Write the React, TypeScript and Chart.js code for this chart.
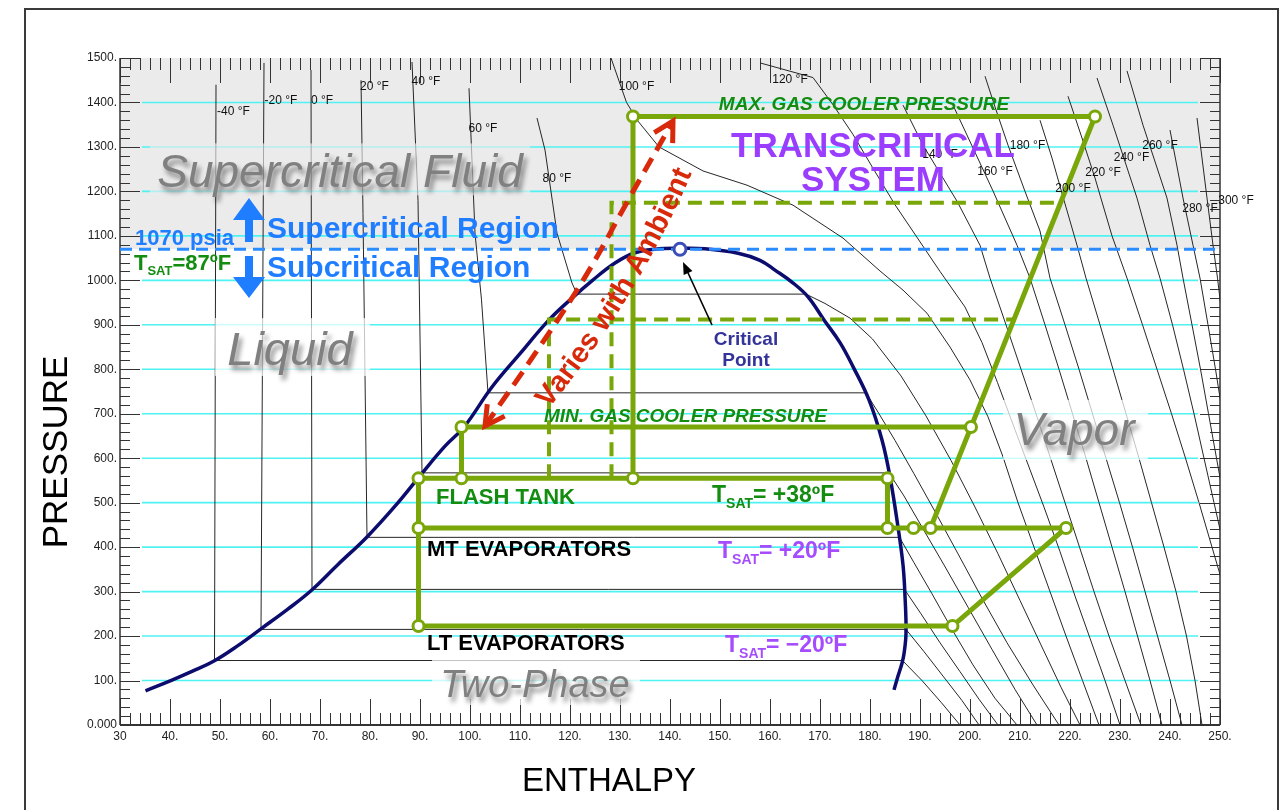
import React, { useEffect, useRef } from "react";
import { Chart, registerables } from "chart.js";

Chart.register(...registerables);

const FONT = '"Liberation Sans", Arial, Helvetica, sans-serif';

// ---------- axes ----------
const ENTHALPY_RANGE = [30, 250];
const PRESSURE_RANGE = [0, 1500];
const ENTHALPY_STEP = 10;
const PRESSURE_STEP = 100;
const CRITICAL_PRESSURE = 1070;
const CRITICAL_POINT = [[142, 1070]];

// ---------- saturation dome [h, p] ----------
const saturationDome = [
  [35.1, 77], [40.4, 101], [44.5, 121], [48.8, 144], [53.5, 178], [58.4, 218], [63.5, 260],
  [68.3, 303], [73.5, 360], [79.4, 423], [85, 492], [90.4, 566], [95, 627], [98.8, 670],
  [104.4, 760], [110, 835], [115.8, 911], [120.4, 960], [124.5, 1000], [129, 1039], [133, 1062],
  [137, 1070], [142, 1072], [147, 1071], [153.6, 1061], [158, 1045], [161, 1023], [164.5, 995],
  [167.6, 963], [170.8, 911], [174, 860], [176.6, 806], [179.8, 731], [182.4, 641], [184, 558],
  [185.6, 445], [186.6, 360], [187, 290], [187.2, 207], [186.8, 160], [186.4, 139], [185.6, 110],
  [184.8, 79],
];

// ---------- isotherms [h, p] ----------
const isoM40 = [[49.2, 1440], [48.9, 145], [186.5, 145], [190.4, 100], [194.3, 50], [198, 0]];
const isoM20 = [[58.8, 1489], [58.2, 215], [187.2, 215], [190.8, 165], [194.6, 110], [198.4, 55], [201.8, 0]];
const iso0 = [[68.2, 1473], [68.4, 305], [186.9, 305], [190.2, 250], [194, 185], [198, 120], [201.8, 58], [205.6, 0]];
const iso20 = [[78.2, 1450], [78.6, 1150], [79.4, 422], [185.9, 422], [188.8, 365], [192.4, 295], [196.4, 215], [200.6, 135], [205, 60], [209.4, 0]];
const iso40 = [[88.4, 1491], [89.6, 1180], [90.4, 567], [183.8, 567], [186.8, 515], [190.4, 445], [194.8, 360], [199.6, 265], [204.4, 170], [209, 80], [213.4, 0]];
const iso60 = [[99.8, 1432], [101, 1106], [102.3, 956], [103.6, 747], [179.2, 747], [181.8, 700], [185, 640], [188.8, 565], [193, 480], [197.6, 385], [202.4, 285], [207.4, 185], [212.6, 90], [217.8, 0]];
const iso80 = [[113.4, 1365], [115, 1293], [117.4, 1106], [120.4, 994], [121.4, 969], [167.2, 969], [171, 948], [176, 915], [180.5, 868], [186.2, 785], [191.2, 695], [196.2, 595], [201, 490], [205.6, 385], [210, 280], [214.2, 180], [218.2, 85], [222, 0]];
const iso100 = [[128.2, 1500], [131.3, 1400], [133.6, 1358], [137.8, 1300], [146.6, 1246], [155.4, 1214], [164.6, 1169], [174.6, 1095], [182, 1021], [186.6, 978], [191.4, 926], [196, 850], [200, 776], [203.6, 693], [206.6, 603], [209.6, 500], [212.8, 400], [216, 300], [219.2, 200], [222.5, 100], [225.8, 0]];
const iso120 = [[158, 1489], [168.6, 1456], [172.6, 1395], [176.6, 1328], [180.6, 1252], [185, 1170], [189.5, 1095], [194, 1020], [199, 940], [202.4, 860], [205.5, 770], [208.8, 670], [211.8, 580], [214.8, 490], [218, 390], [221, 290], [224, 195], [227, 100], [230, 0]];
const iso140 = [[186.6, 1394], [190.6, 1304], [197.4, 1178], [202, 1079], [204, 1005], [207.2, 900], [210.2, 800], [213.2, 700], [216.1, 600], [219, 500], [221.9, 400], [224.8, 300], [227.8, 200], [231, 100], [234.2, 0]];
const iso160 = [[196.6, 1394], [200.5, 1300], [204.6, 1201], [209.4, 1079], [212, 1005], [215, 900], [217.8, 800], [220.5, 700], [223.2, 600], [225.8, 500], [228.4, 400], [231, 300], [233.5, 200], [236, 100], [238.4, 0]];
const iso180 = [[203, 1459], [205, 1390], [207.6, 1304], [211, 1200], [214, 1111], [216, 1005], [219, 900], [221.8, 800], [224.5, 700], [227.2, 600], [229.9, 500], [232.5, 400], [235, 300], [237.5, 200], [240, 100], [242.4, 0]];
const iso200 = [[214, 1360], [216.4, 1275], [218.8, 1180], [221.4, 1079], [223.2, 1005], [226, 900], [228.6, 800], [231.2, 700], [233.8, 600], [236.3, 500], [238.8, 400], [241.2, 300], [243.3, 200], [245, 100], [246.4, 0]];
const iso220 = [[219.6, 1414], [222.4, 1320], [225, 1230], [228.4, 1100], [231.4, 1005], [234.5, 900], [237.4, 800], [240.3, 700], [243.1, 600], [245.8, 500], [248.4, 400], [251, 300]];
const iso240 = [[225.4, 1455], [228.6, 1349], [233.4, 1185], [236, 1079], [238, 1005], [240.5, 900], [242.7, 800], [244.8, 700], [246.8, 600], [248.8, 500], [250.8, 400]];
const iso260 = [[231.4, 1471], [234.6, 1349], [239.4, 1185], [241.4, 1079], [242.6, 1005], [244.4, 900], [246.1, 800], [247.7, 700], [249.3, 600], [250.9, 500]];
const iso280 = [[240, 1338], [242.6, 1185], [244.6, 1079], [246, 1005], [247.6, 900], [249.1, 800], [250.5, 700]];
const iso300 = [[245.4, 1365], [247.4, 1185], [248.6, 1079], [249.5, 1005], [250.6, 900]];

const isotherms = [isoM40, isoM20, iso0, iso20, iso40, iso60, iso80, iso100, iso120, iso140, iso160, iso180, iso200, iso220, iso240, iso260, iso280, iso300];
const isothermLabels = ["-40 °F", "-20 °F", "0 °F", "20 °F", "40 °F", "60 °F", "80 °F", "100 °F", "120 °F", "140 °F", "160 °F", "180 °F", "200 °F", "220 °F", "240 °F", "260 °F", "280 °F", "300 °F"];
const isothermLabelAt = [[52.7, 1378.5], [62.2, 1403.2], [70.4, 1403.2], [80.9, 1434.7], [91.2, 1446], [102.6, 1340.3], [117.4, 1227.8], [133.3, 1434.7], [164, 1451.2], [194, 1282.5], [205, 1243.6], [211.5, 1302], [220.6, 1205.3], [226.6, 1241.3], [232.3, 1275], [238, 1302], [246, 1160.4], [253.2, 1178.4]];

// ---------- refrigeration cycle [h, p] ----------
const gasCoolerPath = [[132.6, 554.7], [132.6, 1368.5], [225, 1368.5], [200.2, 670], [192.1, 443]];
const minPressurePath = [[98.3, 554.7], [98.3, 670], [200.2, 670]];
const evaporatorPath = [[183.5, 443], [183.5, 554.7], [89.7, 554.7], [89.7, 222.6], [196.5, 222.6], [219.2, 443], [89.7, 443]];
const ambientPathHigh = [[128.3, 554.7], [128.3, 1174.5], [218.1, 1174.5]];
const ambientPathLow = [[115.8, 554.7], [115.8, 912], [208.8, 912]];
const cycleNodes = [[132.6, 1368.5], [225, 1368.5], [200.2, 670], [98.3, 670], [89.7, 554.7], [98.3, 554.7], [132.6, 554.7], [183.5, 554.7], [89.7, 443], [183.5, 443], [188.7, 443], [192.1, 443], [219.2, 443], [89.7, 222.6], [196.5, 222.6]];
const ambientArrow = [[103, 672.4], [113.14, 837.4], [123, 1007.2], [131.65, 1180.6], [140.6, 1358]];
const ambientTextGuide = [[103, 672.4], [124.58, 994.4], [140.6, 1358]];
const criticalLine = [[30, 1070], [250, 1070]];

// ---------- colours ----------
const GREEN = "#79a608";
const GREEN_TEXT = "#138c10";
const PURPLE = "#9b3dff";
const PURPLE_T = "#a54cff";
const BLUE = "#1f7dff";
const RED = "#d8290a";
const NAVY = "#0c0c6e";

const xy = (arr: number[][]) => arr.map(([x, y]) => ({ x, y }));
const lineDs = (data: number[][], color: string, width: number, order: number, extra: any = {}) => ({
  data: xy(data),
  borderColor: color,
  borderWidth: width,
  pointRadius: 0,
  pointHoverRadius: 0,
  fill: false,
  tension: 0,
  order,
  ...extra,
});

function circleThrough(a: any, b: any, c: any) {
  const d = 2 * (a.x * (b.y - c.y) + b.x * (c.y - a.y) + c.x * (a.y - b.y));
  const ux = ((a.x * a.x + a.y * a.y) * (b.y - c.y) + (b.x * b.x + b.y * b.y) * (c.y - a.y) + (c.x * c.x + c.y * c.y) * (a.y - b.y)) / d;
  const uy = ((a.x * a.x + a.y * a.y) * (c.x - b.x) + (b.x * b.x + b.y * b.y) * (a.x - c.x) + (c.x * c.x + c.y * c.y) * (b.x - a.x)) / d;
  return { x: ux, y: uy, r: Math.hypot(a.x - ux, a.y - uy) };
}

const backdrop = {
  id: "backdrop",
  beforeDatasetsDraw(chart: any) {
    const { ctx, chartArea: a, scales } = chart;
    const X = (v: number) => scales.x.getPixelForValue(v);
    const Y = (v: number) => scales.y.getPixelForValue(v);
    ctx.save();
    ctx.strokeStyle = "#3a3a3a";
    ctx.lineWidth = 2;
    ctx.strokeRect(25, 9, 1253, 840);
    ctx.fillStyle = "#ebebeb";
    ctx.fillRect(a.left, a.top, a.right - a.left, Y(CRITICAL_PRESSURE) - a.top);
    const A = gasCoolerPath[1], B = gasCoolerPath[2], C = gasCoolerPath[3];
    const t = (CRITICAL_PRESSURE - C[1]) / (B[1] - C[1]);
    const hx = C[0] + (B[0] - C[0]) * t;
    ctx.fillStyle = "#ffffff";
    ctx.beginPath();
    ctx.moveTo(X(A[0]), Y(A[1]));
    ctx.lineTo(X(B[0]), Y(B[1]));
    ctx.lineTo(X(hx), Y(CRITICAL_PRESSURE));
    ctx.lineTo(X(A[0]), Y(CRITICAL_PRESSURE));
    ctx.closePath();
    ctx.fill();
    ctx.strokeStyle = "#4ff2f2";
    ctx.lineWidth = 1.6;
    for (let p = PRESSURE_RANGE[0] + PRESSURE_STEP; p < PRESSURE_RANGE[1]; p += PRESSURE_STEP) {
      const yy = Y(p);
      ctx.beginPath();
      ctx.moveTo(a.left + 22, yy);
      ctx.lineTo(a.right - 22, yy);
      ctx.stroke();
    }
    ctx.strokeStyle = "#333";
    ctx.lineWidth = 1;
    ctx.beginPath();
    for (let h = ENTHALPY_RANGE[0]; h <= ENTHALPY_RANGE[1]; h += 2) {
      const major = h % ENTHALPY_STEP === 0;
      const xx = Math.round(X(h)) + 0.5;
      ctx.moveTo(xx, a.bottom);
      ctx.lineTo(xx, a.bottom - (major ? 26 : 12));
      ctx.moveTo(xx, a.top);
      ctx.lineTo(xx, a.top + (major ? 25 : 12));
    }
    for (let p = PRESSURE_RANGE[0]; p <= PRESSURE_RANGE[1]; p += 20) {
      const major = p % PRESSURE_STEP === 0;
      const yy = Math.round(Y(p)) + 0.5;
      ctx.moveTo(a.left, yy);
      ctx.lineTo(a.left + (major ? 20 : 10), yy);
      ctx.moveTo(a.right, yy);
      ctx.lineTo(a.right - (major ? 20 : 10), yy);
    }
    ctx.stroke();
    ctx.strokeStyle = "#333";
    ctx.lineWidth = 1.5;
    ctx.beginPath();
    ctx.moveTo(a.left, a.top);
    ctx.lineTo(a.left, a.bottom);
    ctx.moveTo(a.right, a.top);
    ctx.lineTo(a.right, a.bottom);
    ctx.stroke();
    ctx.lineWidth = 2.2;
    ctx.beginPath();
    ctx.moveTo(a.left, a.bottom);
    ctx.lineTo(a.right, a.bottom);
    ctx.stroke();
    ctx.restore();
  },
};

function tsat(ctx: any, x: number, y: number, rest: string, color: string, size: number) {
  ctx.save();
  ctx.fillStyle = color;
  ctx.textAlign = "left";
  ctx.textBaseline = "alphabetic";
  ctx.font = `bold ${size}px ${FONT}`;
  ctx.fillText("T", x, y);
  let cx = x + ctx.measureText("T").width;
  const sub = Math.round(size * 0.6);
  ctx.font = `bold ${sub}px ${FONT}`;
  ctx.fillText("SAT", cx, y + size * 0.24);
  cx += ctx.measureText("SAT").width;
  ctx.font = `bold ${size}px ${FONT}`;
  ctx.fillText(rest, cx, y);
  ctx.restore();
}

const annotations = {
  id: "annotations",
  afterDatasetsDraw(chart: any) {
    const { ctx, chartArea: a, scales } = chart;
    const X = (v: number) => scales.x.getPixelForValue(v);
    const Y = (v: number) => scales.y.getPixelForValue(v);
    ctx.save();

    const boxes = [
      { r: [36, 112, 1191, 1308], c: "rgba(235,235,235,0.65)" },
      { r: [49, 80, 785, 915], c: "rgba(255,255,255,0.72)" },
      { r: [206.6, 235.6, 596, 731], c: "rgba(255,255,255,0.72)" },
      { r: [92.4, 134, 45, 148], c: "rgba(255,255,255,0.72)" },
    ];
    boxes.forEach(({ r, c }) => {
      ctx.fillStyle = c;
      ctx.fillRect(X(r[0]), Y(r[3]), X(r[1]) - X(r[0]), Y(r[2]) - Y(r[3]));
    });

    const regions = [
      { s: "Supercritical Fluid", h: 74, p: 1209.9, size: 46 },
      { s: "Liquid", h: 64, p: 809.6, size: 47 },
      { s: "Vapor", h: 220.8, p: 629.7, size: 46 },
      { s: "Two-Phase", h: 113, p: 63, size: 38 },
    ];
    regions.forEach(({ s, h, p, size }) => {
      ctx.save();
      ctx.font = `italic ${size}px ${FONT}`;
      ctx.textAlign = "center";
      ctx.textBaseline = "alphabetic";
      ctx.shadowColor = "rgba(0,0,0,0.45)";
      ctx.shadowBlur = 5;
      ctx.shadowOffsetX = 3;
      ctx.shadowOffsetY = 5;
      ctx.fillStyle = "#808080";
      ctx.fillText(s, X(h), Y(p));
      ctx.restore();
    });

    ctx.font = `12px ${FONT}`;
    ctx.fillStyle = "#111";
    ctx.textAlign = "center";
    ctx.textBaseline = "middle";
    isothermLabels.forEach((s, i) => {
      const [h, p] = isothermLabelAt[i];
      ctx.fillText(s, X(h), Y(p));
    });

    const texts = [
      { s: "MAX. GAS COOLER PRESSURE", h: 178.8, p: 1383, f: `italic bold 19px ${FONT}`, c: GREEN_TEXT, al: "center" },
      { s: "MIN. GAS COOLER PRESSURE", h: 114.8, p: 681.4, f: `italic bold 19px ${FONT}`, c: GREEN_TEXT, al: "left" },
      { s: "FLASH TANK", h: 93.2, p: 497, f: `bold 22px ${FONT}`, c: GREEN_TEXT, al: "left" },
      { s: "MT EVAPORATORS", h: 91.4, p: 380, f: `bold 22px ${FONT}`, c: "#000", al: "left" },
      { s: "LT EVAPORATORS", h: 91.4, p: 168.7, f: `bold 22px ${FONT}`, c: "#000", al: "left" },
      { s: "TRANSCRITICAL", h: 180.6, p: 1277.3, f: `bold 35px ${FONT}`, c: PURPLE, al: "center" },
      { s: "SYSTEM", h: 180.6, p: 1200.8, f: `bold 35px ${FONT}`, c: PURPLE, al: "center" },
      { s: "Supercritical Region", h: 59.4, p: 1095.2, f: `bold 30px ${FONT}`, c: BLUE, al: "left" },
      { s: "Subcritical Region", h: 59.4, p: 1007.4, f: `bold 30px ${FONT}`, c: BLUE, al: "left" },
      { s: "1070 psia", h: 33, p: 1079.4, f: `bold 22px ${FONT}`, c: BLUE, al: "left" },
      { s: "Critical", h: 155.2, p: 854.5, f: `bold 19px ${FONT}`, c: "#33339a", al: "center" },
      { s: "Point", h: 155.2, p: 807.3, f: `bold 19px ${FONT}`, c: "#33339a", al: "center" },
    ];
    ctx.textBaseline = "alphabetic";
    texts.forEach(({ s, h, p, f, c, al }) => {
      ctx.font = f;
      ctx.fillStyle = c;
      ctx.textAlign = al;
      ctx.fillText(s, X(h), Y(p));
    });

    tsat(ctx, X(32.8), Y(1023.2), "=87ºF", GREEN_TEXT, 22);
    tsat(ctx, X(148.4), Y(501.5), "= +38ºF", GREEN_TEXT, 23);
    tsat(ctx, X(149.6), Y(375.5), "= +20ºF", PURPLE_T, 23);
    tsat(ctx, X(151), Y(164.2), "= \u221220ºF", PURPLE_T, 23);

    const ax = X(55.8);
    ctx.fillStyle = BLUE;
    const arrow = (tip: number, base: number, tail: number) => {
      const yt = Y(tip), yb = Y(base), ys = Y(tail);
      ctx.beginPath();
      ctx.moveTo(ax, yt);
      ctx.lineTo(ax + 16, yb);
      ctx.lineTo(ax + 4, yb);
      ctx.lineTo(ax + 4, ys);
      ctx.lineTo(ax - 4, ys);
      ctx.lineTo(ax - 4, yb);
      ctx.lineTo(ax - 16, yb);
      ctx.closePath();
      ctx.fill();
    };
    arrow(1185, 1135.6, 1086);
    arrow(960.2, 1007.4, 1054.6);

    const c0 = { x: X(148.4), y: Y(899.5) }, c1 = { x: X(142.6), y: Y(1041.2) };
    const ang = Math.atan2(c1.y - c0.y, c1.x - c0.x);
    ctx.strokeStyle = "#000";
    ctx.fillStyle = "#000";
    ctx.lineWidth = 1.6;
    ctx.beginPath();
    ctx.moveTo(c0.x, c0.y);
    ctx.lineTo(c1.x - Math.cos(ang) * 8, c1.y - Math.sin(ang) * 8);
    ctx.stroke();
    ctx.beginPath();
    ctx.moveTo(c1.x, c1.y);
    ctx.lineTo(c1.x - Math.cos(ang - 0.38) * 13, c1.y - Math.sin(ang - 0.38) * 13);
    ctx.lineTo(c1.x - Math.cos(ang + 0.38) * 13, c1.y - Math.sin(ang + 0.38) * 13);
    ctx.closePath();
    ctx.fill();

    const pts = ambientArrow.map(([h, p]) => ({ x: X(h), y: Y(p) }));
    const head = (tip: any, from: any) => {
      const back = Math.atan2(from.y - tip.y, from.x - tip.x);
      ctx.beginPath();
      ctx.moveTo(tip.x + Math.cos(back - 0.5) * 22, tip.y + Math.sin(back - 0.5) * 22);
      ctx.lineTo(tip.x, tip.y);
      ctx.lineTo(tip.x + Math.cos(back + 0.5) * 22, tip.y + Math.sin(back + 0.5) * 22);
      ctx.stroke();
    };
    ctx.strokeStyle = RED;
    ctx.lineWidth = 5;
    ctx.lineJoin = "miter";
    head(pts[pts.length - 1], pts[pts.length - 2]);
    head(pts[0], pts[1]);

    const g = ambientTextGuide.map(([h, p]) => ({ x: X(h), y: Y(p) }));
    const circ = circleThrough(g[0], g[1], g[2]);
    const thA = Math.atan2(g[0].y - circ.y, g[0].x - circ.x);
    const thB = Math.atan2(g[2].y - circ.y, g[2].x - circ.x);
    const sgn = Math.sign(thB - thA);
    ctx.font = `bold 29px ${FONT}`;
    ctx.fillStyle = RED;
    ctx.textAlign = "center";
    ctx.textBaseline = "alphabetic";
    const label = "Varies with Ambient";
    const Rt = circ.r + 37;
    const W = ctx.measureText(label).width;
    const thMid = (thA + thB) / 2 + (sgn * 6) / Rt;
    let acc = 0;
    for (const ch of label) {
      const w = ctx.measureText(ch).width;
      const th = thMid - (sgn * (W / 2 - acc - w / 2)) / Rt;
      const px = circ.x + Rt * Math.cos(th), py = circ.y + Rt * Math.sin(th);
      const rot = Math.atan2(-Math.cos(th), Math.sin(th));
      ctx.save();
      ctx.translate(px, py);
      ctx.rotate(rot);
      ctx.fillText(ch, 0, 0);
      ctx.restore();
      acc += w;
    }

    ctx.fillStyle = "#000";
    ctx.font = `35px ${FONT}`;
    ctx.textAlign = "center";
    ctx.textBaseline = "middle";
    ctx.save();
    ctx.translate(a.left - 63, Y(614));
    ctx.rotate(-Math.PI / 2);
    ctx.fillText("PRESSURE", 0, 0);
    ctx.restore();
    ctx.font = `33px ${FONT}`;
    ctx.textBaseline = "alphabetic";
    ctx.fillText("ENTHALPY", X(127.8), a.bottom + 66);

    ctx.restore();
  },
};

export default function App() {
  const ref = useRef<HTMLCanvasElement | null>(null);
  useEffect(() => {
    if (!ref.current) return;
    const datasets: any[] = [
      lineDs(ambientArrow, RED, 5, 1, { borderDash: [16, 9], tension: 0.4 }),
      lineDs(cycleNodes, GREEN, 0, 2, { showLine: false, pointRadius: 5.5, pointBorderWidth: 3, pointBackgroundColor: "#fff", pointBorderColor: GREEN, pointHoverRadius: 5.5 }),
      lineDs(CRITICAL_POINT, "#3c4fb8", 0, 3, { showLine: false, pointRadius: 6, pointBorderWidth: 3, pointBackgroundColor: "#fff", pointBorderColor: "#3c4fb8", pointHoverRadius: 6 }),
      lineDs(gasCoolerPath, GREEN, 5, 4),
      lineDs(minPressurePath, GREEN, 5, 4),
      lineDs(evaporatorPath, GREEN, 5, 4),
      lineDs(ambientPathHigh, GREEN, 4, 5, { borderDash: [14, 8] }),
      lineDs(ambientPathLow, GREEN, 4, 5, { borderDash: [14, 8] }),
      lineDs(criticalLine, "#2b8cff", 3, 6, { borderDash: [12, 7] }),
      lineDs(saturationDome, NAVY, 3.5, 7, { tension: 0.4 }),
      ...isotherms.map((iso) => lineDs(iso, "#262626", 1, 10)),
    ];
    const chart = new Chart(ref.current, {
      type: "line",
      data: { datasets },
      options: {
        animation: false,
        responsive: false,
        events: [],
        layout: { padding: { left: 0, right: 60, top: 58, bottom: 0 } },
        plugins: { legend: { display: false }, tooltip: { enabled: false } },
        scales: {
          x: {
            type: "linear",
            min: ENTHALPY_RANGE[0],
            max: ENTHALPY_RANGE[1],
            afterFit: (s: any) => { s.height = 85; },
            grid: { display: false, drawTicks: false },
            border: { display: false },
            ticks: {
              stepSize: ENTHALPY_STEP,
              autoSkip: false,
              maxRotation: 0,
              padding: 4,
              color: "#222",
              font: { family: FONT, size: 12 },
              callback: (v: any) => (v === ENTHALPY_RANGE[0] ? String(v) : `${v}.`),
            },
          },
          y: {
            type: "linear",
            min: PRESSURE_RANGE[0],
            max: PRESSURE_RANGE[1],
            afterFit: (s: any) => { s.width = 120; },
            grid: { display: false, drawTicks: false },
            border: { display: false },
            ticks: {
              stepSize: PRESSURE_STEP,
              autoSkip: false,
              padding: 3,
              color: "#222",
              font: { family: FONT, size: 12 },
              callback: (v: any) => (v === 0 ? "0.000" : `${v}.`),
            },
          },
        },
      },
      plugins: [backdrop, annotations],
    });
    return () => chart.destroy();
  }, []);
  return (
    <div style={{ position: "fixed", left: 0, top: 0, width: 1280, height: 810, background: "#fff" }}>
      <canvas ref={ref} width={1280} height={810} style={{ display: "block" }} />
    </div>
  );
}
